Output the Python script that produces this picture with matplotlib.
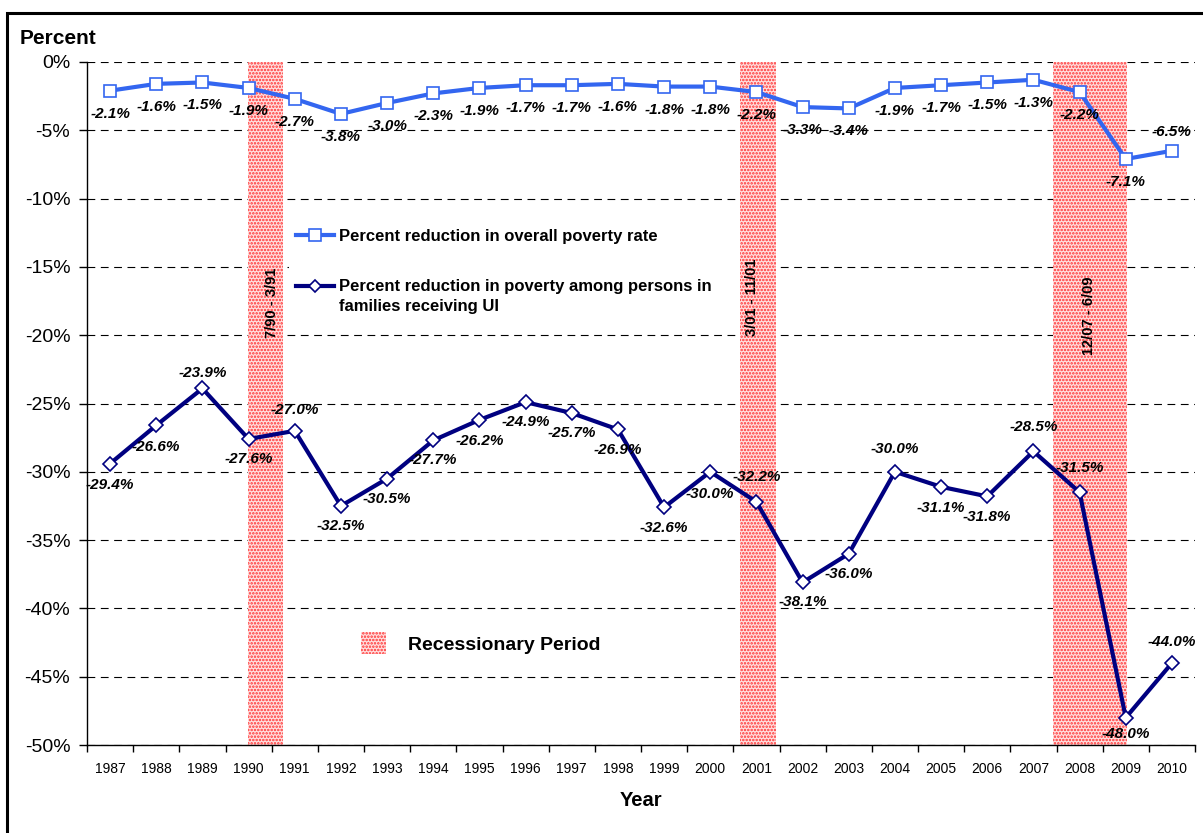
import matplotlib
matplotlib.use('Agg')
import matplotlib.pyplot as plt
from matplotlib.lines import Line2D
from matplotlib.patches import Patch, Rectangle

plt.rcParams['font.family'] = ['Liberation Sans', 'DejaVu Sans']
plt.rcParams['hatch.linewidth'] = 1.2

# ---------------------------------------------------------------- data
years = [str(y) for y in range(1987, 2011)]
overall = [-2.1, -1.6, -1.5, -1.9, -2.7, -3.8, -3.0, -2.3, -1.9, -1.7, -1.7, -1.6,
           -1.8, -1.8, -2.2, -3.3, -3.4, -1.9, -1.7, -1.5, -1.3, -2.2, -7.1, -6.5]
ui = [-29.4, -26.6, -23.9, -27.6, -27.0, -32.5, -30.5, -27.7, -26.2, -24.9, -25.7, -26.9,
      -32.6, -30.0, -32.2, -38.1, -36.0, -30.0, -31.1, -31.8, -28.5, -31.5, -48.0, -44.0]

# recessions, in category units (1987 = 0)
rec_start = [2.99, 13.64, 20.42]
rec_end = [3.75, 14.42, 22.02]
rec_labels = ['7/90 - 3/91', '3/01 - 11/01', '12/07 - 6/09']

overall_name = 'Percent reduction in overall poverty rate'
ui_name = ['Percent reduction in poverty among persons in', 'families receiving UI']

# label placement (pixels, + = below the point)
ov_off = [23] * 23 + [-19]
ui_off = [21, 22, -15, 20, -21, 20, 20, 20, 21, 20, 20, 21,
          21, 22, -25, 20, 20, -23, 21, 21, -24, -24, 16, -21]

BLUE = '#3366F0'
NAVY = '#000080'
W, H = 1203, 833

fig = plt.figure(figsize=(12.03, 8.33), dpi=100)
ax = fig.add_axes([87 / W, 1 - 745 / H, (1195 - 87) / W, (745 - 62) / H])

x = list(range(len(years)))

# recession bands
for s, e, lab, tx, ty in zip(rec_start, rec_end, rec_labels, [3.51, 13.9, 21.2], [-17.6, -17.2, -18.6]):
    ax.axvspan(s, e, facecolor='#ffe0e0', edgecolor='#ff3030', hatch='.....', linewidth=0, zorder=1)
    ax.text(tx, ty, lab, rotation=90, ha='center', va='center', fontsize=10.5,
            fontweight='bold', zorder=3)

# white area behind the legend hides the gridlines there
ax.add_patch(Rectangle((289 / W, 1 - 325 / H), (738 - 289) / W, 110 / H,
                       transform=fig.transFigure, facecolor='white', edgecolor='none', zorder=1.5))

ax.plot(x, overall, color=BLUE, lw=3, marker='s', ms=8.5, mfc='white', mec=BLUE, mew=1.2,
        zorder=4)
ax.plot(x, ui, color=NAVY, lw=3, marker='D', ms=7, mfc='white', mec=NAVY, mew=1.2,
        zorder=4)

for xi, v, o in zip(x, overall, ov_off):
    ax.annotate(f'{v:.1f}%', (xi, v), xytext=(0, -o), textcoords='offset pixels',
                ha='center', va='center', fontsize=11, fontweight='bold', fontstyle='italic',
                zorder=5)
for xi, v, o in zip(x, ui, ui_off):
    ax.annotate(f'{v:.1f}%', (xi, v), xytext=(0, -o), textcoords='offset pixels',
                ha='center', va='center', fontsize=11, fontweight='bold', fontstyle='italic',
                zorder=5)

# axes
ax.set_xlim(-0.5, len(years) - 0.5)
ax.set_ylim(-50, 0)
ax.set_yticks(range(-50, 1, 5))
ax.set_yticklabels([f'{t}%' for t in range(-50, 1, 5)], fontsize=14)
ax.set_xticks([i - 0.5 for i in range(len(years) + 1)])
ax.set_xticklabels([])
ax.set_xticks(x, minor=True)
ax.set_xticklabels(years, minor=True, fontsize=10)
ax.tick_params(axis='x', which='major', direction='out', length=5, width=1)
ax.tick_params(axis='x', which='minor', length=0, pad=12)
ax.tick_params(axis='y', direction='out', length=6, width=1, pad=6)
ax.yaxis.grid(True, color='black', lw=0.8, linestyle=(0, (7, 5)))
ax.set_axisbelow(True)
for sp in ['top', 'right']:
    ax.spines[sp].set_visible(False)
ax.spines['left'].set_linewidth(1)
ax.spines['bottom'].set_linewidth(1)

ax.set_xlabel('Year', fontsize=14.5, fontweight='bold', labelpad=11)
fig.text(20 / W, 1 - 38 / H, 'Percent', fontsize=15, fontweight='bold', va='center')

# legends
h1 = Line2D([], [], color=BLUE, lw=3, marker='s', ms=8, mfc='white', mec=BLUE, mew=1.2)
h2 = Line2D([], [], color=NAVY, lw=3, marker='D', ms=6.5, mfc='white', mec=NAVY, mew=1.2)
leg_kw = dict(loc='center left', frameon=False, bbox_transform=fig.transFigure,
              prop={'size': 12, 'weight': 'bold'}, handlelength=2.3, handletextpad=0.3,
              borderpad=0, borderaxespad=0)
leg1 = ax.legend([h1], [overall_name], bbox_to_anchor=(296 / W, 1 - 236 / H), **leg_kw)
ax.add_artist(leg1)
leg2 = ax.legend([h2], [ui_name[0]], bbox_to_anchor=(296 / W, 1 - 287 / H), **leg_kw)
ax.add_artist(leg2)
fig.text(339 / W, 1 - 306 / H, ui_name[1], fontsize=12, fontweight='bold', va='center')
hp = Patch(facecolor='#ffe0e0', edgecolor='#ff3030', hatch='.....', linewidth=0)
ax.legend([hp], ['Recessionary Period'], loc='center left', frameon=False,
          bbox_to_anchor=(361 / W, 1 - 643 / H), bbox_transform=fig.transFigure,
          prop={'size': 14, 'weight': 'bold'}, handlelength=1.3, handleheight=1.3,
          handletextpad=1.1, borderpad=0, borderaxespad=0)

# outer frame
fig.add_artist(Rectangle((7 / W, -0.05), 1.1, 1 - 13 / H + 0.05, transform=fig.transFigure,
                         fill=False, lw=2.2, ec='black'))

fig.savefig('out.png', dpi=100)
